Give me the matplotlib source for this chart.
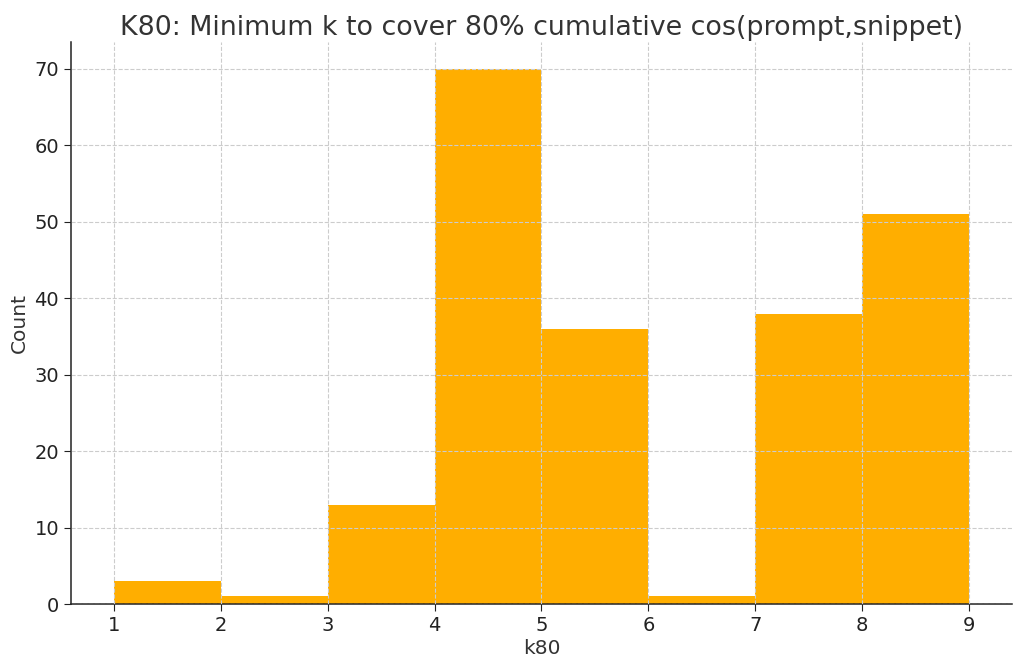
import matplotlib
matplotlib.use("Agg")
import matplotlib.pyplot as plt
import numpy as np

bin_edges = [1, 2, 3, 4, 5, 6, 7, 8, 9]
counts = [3, 1, 13, 70, 36, 1, 38, 51]
x_ticks = [1, 2, 3, 4, 5, 6, 7, 8, 9]
y_ticks = [0, 10, 20, 30, 40, 50, 60, 70]

fig = plt.figure(figsize=(10.24, 6.69), dpi=100)
ax = fig.add_axes([0.0693, 0.097, 0.9190, 0.840])

centers = [(a + b) / 2 for a, b in zip(bin_edges[:-1], bin_edges[1:])]
ax.hist(centers, bins=bin_edges, weights=counts, color="#FFAE00", zorder=1)

ax.set_axisbelow(False)
ax.grid(True, linestyle="--", color="#cccccc", linewidth=0.8, zorder=3)
ax.set_xticks(x_ticks)
ax.set_yticks(y_ticks)
ax.tick_params(labelsize=14, colors="#222222", length=5)
for s in ["top", "right"]:
    ax.spines[s].set_visible(False)
for s in ["left", "bottom"]:
    ax.spines[s].set_color("#222222")
    ax.spines[s].set_linewidth(1.1)

ax.set_xlabel("k80", fontsize=14.5, color="#333333", labelpad=3)
ax.set_ylabel("Count", fontsize=14.5, color="#333333", labelpad=4)
ax.set_title("K80: Minimum k to cover 80% cumulative cos(prompt,snippet)", fontsize=19.4, color="#333333", pad=5)

fig.savefig("out.png", dpi=100)
